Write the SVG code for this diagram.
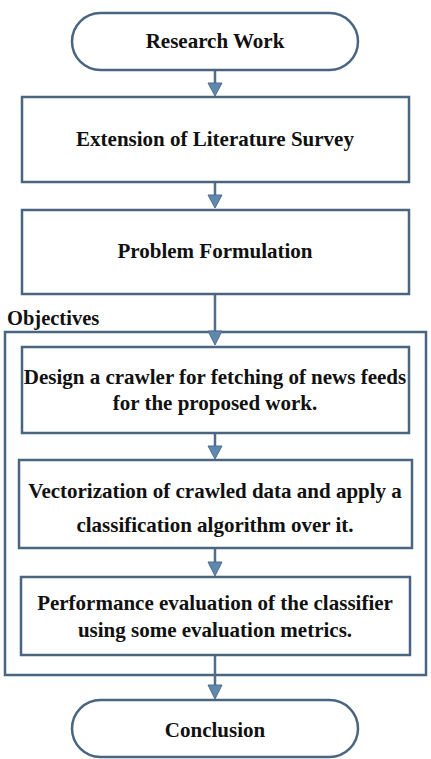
<svg xmlns="http://www.w3.org/2000/svg" width="431" height="759" viewBox="0 0 431 759">
<style>
.b{fill:#fff;stroke:#4a6580;stroke-width:2.5}
.t{font-family:"Liberation Serif","Times New Roman",serif;font-weight:bold;font-size:21px;fill:#111;text-anchor:middle}
.c{stroke:#4f6d8c;stroke-width:2.5;fill:none}
.h{fill:#5f88ae;stroke:#4f6d8c;stroke-width:1}
</style>
<rect width="431" height="759" fill="#fff"/>
<g id="objectives">
<rect class="b" x="5" y="332" width="421" height="343"/>
<text x="7" y="325" style="font-family:'Liberation Serif',serif;font-weight:bold;font-size:20.5px;fill:#111">Objectives</text>
</g>
<g id="connectors">
<line class="c" x1="215" y1="70" x2="215" y2="86"/>
<polygon class="h" points="208,83 222,83 215,96"/>
<line class="c" x1="215" y1="182" x2="215" y2="198"/>
<polygon class="h" points="208,195 222,195 215,208"/>
<line class="c" x1="215" y1="294" x2="215" y2="334"/>
<polygon class="h" points="208,331 222,331 215,345"/>
<line class="c" x1="215" y1="433" x2="215" y2="449"/>
<polygon class="h" points="208,446 222,446 215,459"/>
<line class="c" x1="215" y1="548" x2="215" y2="565"/>
<polygon class="h" points="208,562 222,562 215,576"/>
<line class="c" x1="215" y1="655" x2="215" y2="688"/>
<polygon class="h" points="208,685 222,685 215,699"/>
</g>
<g id="n1">
<rect class="b" x="72" y="13" width="286" height="57" rx="28.5"/>
<text class="t" x="215" y="48">Research Work</text>
</g>
<g id="n2">
<rect class="b" x="22" y="97" width="387" height="85"/>
<text class="t" x="215" y="146">Extension of Literature Survey</text>
</g>
<g id="n3">
<rect class="b" x="22" y="210" width="387" height="84"/>
<text class="t" x="215" y="258">Problem Formulation</text>
</g>
<g id="n4">
<rect class="b" x="22" y="347" width="387" height="86"/>
<text class="t" x="215" y="384">Design a crawler for fetching of news feeds</text>
<text class="t" x="215" y="410">for the proposed work.</text>
</g>
<g id="n5">
<rect class="b" x="19" y="460" width="393" height="88"/>
<text class="t" x="215" y="498">Vectorization of crawled data and apply a</text>
<text class="t" x="215" y="532">classification algorithm over it.</text>
</g>
<g id="n6">
<rect class="b" x="21" y="577" width="389" height="78"/>
<text class="t" x="215" y="610">Performance evaluation of the classifier</text>
<text class="t" x="215" y="637">using some evaluation metrics.</text>
</g>
<g id="n7">
<rect class="b" x="72" y="700" width="286" height="57" rx="28.5"/>
<text class="t" x="215" y="737">Conclusion</text>
</g>
</svg>
